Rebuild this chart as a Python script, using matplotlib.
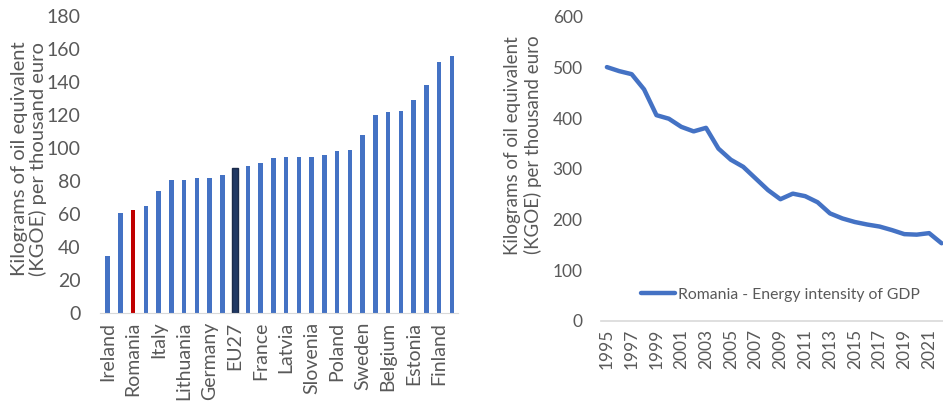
import numpy as np
import matplotlib
matplotlib.use("Agg")
import matplotlib.pyplot as plt

# energy intensity by country, sorted ascending (KGOE per thousand euro)
countries = ["Ireland", "Denmark", "Romania", "Malta", "Italy", "Luxembourg",
             "Lithuania", "Austria", "Germany", "Portugal", "EU27", "Spain",
             "France", "Greece", "Latvia", "Netherlands", "Slovenia", "Croatia",
             "Poland", "Cyprus", "Sweden", "Hungary", "Belgium", "Slovakia",
             "Estonia", "Czechia", "Finland", "Bulgaria"]
intensity = [35, 60.5, 62.5, 64.7, 73.8, 81, 81, 81.7, 81.7, 84, 87.9, 88.9,
             90.9, 93.8, 94.6, 94.6, 94.6, 96, 98, 98.8, 107.9, 120.2, 121.6,
             122.4, 129, 138.5, 152.2, 155.6]

# Romania time series
years = list(range(1995, 2023))
romania_series = [501, 493, 487, 457, 406, 399, 383, 374, 381, 340, 318, 304,
                  281, 258, 240, 251, 246, 234, 212, 202, 195, 190, 186, 179,
                  171, 170, 173, 153]

BLUE = "#4472C4"
RED = "#C00000"
NAVY = "#203864"
GREY = "#595959"
AXIS = "#D9D9D9"
YLABEL = "Kilograms of oil equivalent\n(KGOE) per thousand euro"

plt.rcParams["font.family"] = ["Lato", "DejaVu Sans"]

fig = plt.figure(figsize=(9.43, 4.11), dpi=100)

# --- left: bar chart by country ---
ax1 = fig.add_axes([0.106, 0.2377, 0.380, 0.7233])
x = np.arange(len(countries))
colors = [RED if c == "Romania" else NAVY if c == "EU27" else BLUE for c in countries]
bars = ax1.bar(x, intensity, width=0.34, color=colors)
eu = countries.index("EU27")
bars[eu].set_width(0.5)
bars[eu].set_x(eu - 0.25)
bars[eu].set_edgecolor("#1a2a4a")
bars[eu].set_linewidth(1.0)

ax1.set_xlim(-0.6, len(countries) - 0.5)
ax1.set_ylim(0, 180)
ax1.set_yticks(range(0, 181, 20))
ax1.set_xticks(x[::2])
ax1.set_xticklabels(countries[::2], rotation=90)
ax1.tick_params(axis="both", length=0, colors=GREY, labelsize=14)
ax1.tick_params(axis="y", pad=14)
ax1.tick_params(axis="x", pad=6)
for side in ["top", "right", "left"]:
    ax1.spines[side].set_visible(False)
ax1.spines["bottom"].set_color(AXIS)
ax1.set_ylabel(YLABEL, fontsize=14.5, color=GREY, linespacing=1.08)
ax1.yaxis.set_label_coords(-0.148, 0.519)

# --- right: Romania over time ---
ax2 = fig.add_axes([0.637, 0.2197, 0.368, 0.739])
ax2.plot(years, romania_series, color=BLUE, linewidth=3.2,
         solid_capstyle="round", label="Romania - Energy intensity of GDP")
ax2.set_xlim(years[0] - 0.5, years[-1] + 0.5)
ax2.set_ylim(0, 600)
ax2.set_yticks(range(0, 601, 100))
ax2.set_xticks(years[::2])
ax2.set_xticklabels([str(y) for y in years[::2]], rotation=90)
ax2.tick_params(axis="both", length=0, colors=GREY, labelsize=12.5)
ax2.tick_params(axis="y", pad=13)
ax2.tick_params(axis="x", pad=6)
for side in ["top", "right", "left"]:
    ax2.spines[side].set_visible(False)
ax2.spines["bottom"].set_color(AXIS)
ax2.spines["bottom"].set_linewidth(1.2)
ax2.set_ylabel(YLABEL, fontsize=13.5, color=GREY, linespacing=1.15)
ax2.yaxis.set_label_coords(-0.170, 0.578)
leg = ax2.legend(loc="center left", bbox_to_anchor=(0.075, 0.085), frameon=False,
                 fontsize=11.3, handlelength=2.2, handletextpad=0.15)
for t in leg.get_texts():
    t.set_color(GREY)

fig.savefig("out.png", dpi=100)
